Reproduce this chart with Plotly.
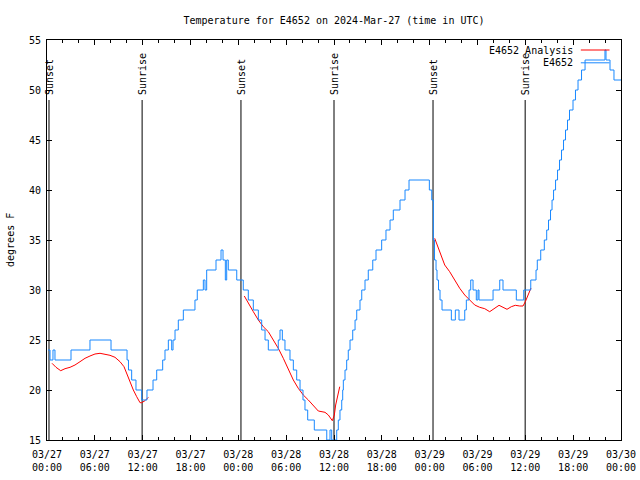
import pandas as pd
import plotly.graph_objects as go

# ---------------- data ----------------
start = pd.Timestamp("2024-03-27 00:00")
span_hours = 72

# observed E4652 temperature (change points, hours after 03/27 00:00 UTC)
obs_hours = [0.13, 0.38, 0.75, 1.00, 3.01, 5.39, 8.03, 10.04, 10.22, 10.62,
             11.16, 11.88, 12.54, 13.30, 13.76, 14.51, 14.80, 15.22, 15.64, 15.81,
             16.06, 16.47, 17.10, 18.56, 18.85, 19.61, 19.82, 20.03, 21.20, 21.83,
             22.08, 22.37, 22.54, 22.74, 23.80, 24.62, 25.25, 25.88, 26.51, 26.93,
             27.35, 27.76, 29.01, 29.23, 29.52, 29.85, 30.48, 30.90, 31.32, 31.74,
             32.11, 32.36, 32.70, 33.53, 35.09, 35.50, 35.71, 36.34, 36.54, 36.75,
             36.97, 37.09, 37.17, 37.38, 37.59, 37.79, 38.01, 38.35, 38.64, 38.85,
             39.26, 39.48, 39.89, 40.30, 40.86, 41.27, 41.98, 42.52, 43.03, 43.44,
             44.28, 44.91, 45.41, 47.96, 48.26, 48.46, 48.61, 48.80, 48.92, 49.11,
             49.30, 49.55, 50.72, 51.22, 51.68, 52.40, 52.60, 52.94, 53.15, 53.44,
             53.85, 54.06, 54.19, 55.95, 56.79, 57.20, 58.87, 59.80, 60.68, 61.34,
             61.50, 61.93, 62.38, 62.68, 62.91, 63.16, 63.35, 63.54, 63.79, 64.04,
             64.29, 64.54, 64.79, 65.04, 65.29, 65.54, 65.98, 66.29, 66.61, 67.05,
             67.49, 69.99, 70.12, 70.62, 71.12, 72.00]
obs_temp = [24, 23, 24, 23, 24, 25, 24, 23, 22, 21,
            20, 19, 20, 21, 22, 23, 24, 25, 24, 25,
            26, 27, 28, 29, 30, 31, 30, 32, 33, 34,
            33, 31, 33, 32, 31, 30, 29, 28, 27, 26,
            25, 24, 25, 26, 25, 24, 23, 22, 21, 20,
            19, 18, 17, 16, 15, 16, 15, 16, 17, 18,
            19, 20, 21, 22, 23, 24, 25, 26, 27, 28,
            29, 30, 31, 32, 33, 34, 35, 36, 37, 38,
            39, 40, 41, 40, 39, 35, 33, 32, 31, 30,
            29, 28, 27, 28, 27, 28, 29, 30, 31, 30,
            29, 30, 29, 30, 31, 30, 29, 30, 31, 32,
            33, 34, 35, 36, 37, 38, 39, 40, 41, 42,
            43, 44, 45, 46, 47, 48, 49, 50, 51, 52,
            53, 54, 53, 52, 51, 51]

# E4652 Analysis (three night segments)
ana_hours_1 = [0.63, 1.13, 1.72, 2.26, 2.89, 3.51, 4.14, 4.77, 5.39, 6.02, 6.65, 7.28,
               7.90, 8.53, 9.16, 9.66, 10.07, 10.41, 10.83, 11.25, 11.67, 11.88, 12.29, 12.71]
ana_temp_1 = [22.67, 22.27, 21.93, 22.13, 22.27, 22.5, 22.83, 23.17, 23.4, 23.6, 23.67, 23.6,
              23.47, 23.27, 22.83, 22.33, 21.5, 20.83, 20.0, 19.33, 18.73, 18.73, 18.93, 19.27]
ana_hours_2 = [24.75, 25.25, 25.88, 26.51, 27.13, 27.76, 28.39, 29.01, 29.64, 30.27, 30.90, 31.52,
               32.15, 32.78, 33.40, 34.03, 34.87, 35.29, 35.79, 36.04, 36.21, 36.47, 36.72]
ana_temp_2 = [29.4, 28.67, 27.83, 27.0, 26.33, 25.83, 25.0, 24.17, 23.17, 22.0, 21.0, 20.17,
              19.5, 19.0, 18.5, 17.9, 17.77, 17.5, 16.93, 17.5, 18.5, 19.5, 20.33]
ana_hours_3 = [48.63, 49.05, 49.46, 49.89, 50.51, 51.14, 51.77, 52.40, 53.02, 53.65, 54.28, 54.91,
               55.53, 56.16, 56.70, 57.20, 57.70, 58.24, 58.74, 59.30, 59.71, 60.00, 60.25, 60.55, 60.71]
ana_temp_3 = [35.17, 34.33, 33.33, 32.5, 31.83, 31.0, 30.17, 29.5, 29.0, 28.5, 28.27, 28.13,
              27.83, 28.17, 28.47, 28.27, 28.07, 28.33, 28.47, 28.4, 28.4, 28.83, 29.33, 29.83, 30.2]

# sunrise / sunset markers
sun_hours = [0.25, 11.93, 24.33, 36.0, 48.42, 59.98]
sun_labels = ["Sunset", "Sunrise", "Sunset", "Sunrise", "Sunset", "Sunrise"]
sun_line_top = 49

y_range = [15, 55]
tick_hours = list(range(0, 73, 6))

title_text = "Temperature for E4652 on 2024-Mar-27 (time in UTC)"
y_title = "degrees F"
series_names = ["E4652 Analysis", "E4652"]
series_colors = ["#ff0000", "#1888ff"]

# ---------------- helpers ----------------
def to_time(hours):
    return [start + pd.Timedelta(hours=h) if h is not None else None for h in hours]

ana_hours = ana_hours_1 + [None] + ana_hours_2 + [None] + ana_hours_3
ana_temp = ana_temp_1 + [None] + ana_temp_2 + [None] + ana_temp_3

FONT = "DejaVu Sans Mono"
fs = 10

fig = go.Figure()
fig.add_trace(go.Scatter(x=to_time(ana_hours), y=ana_temp, mode="lines",
                         line=dict(color=series_colors[0], width=1),
                         name=series_names[0], showlegend=False))
fig.add_trace(go.Scatter(x=to_time(obs_hours), y=obs_temp, mode="lines",
                         line=dict(color=series_colors[1], width=1, shape="hv"),
                         name=series_names[1], showlegend=False))

for t, lab in zip(to_time(sun_hours), sun_labels):
    fig.add_shape(type="line", xref="x", yref="y", x0=t, x1=t, y0=y_range[0], y1=sun_line_top,
                  line=dict(color="black", width=1), layer="below")
    fig.add_annotation(x=t, y=sun_line_top + 0.4, xref="x", yref="y", text=lab,
                       textangle=-90, showarrow=False, xanchor="center", yanchor="bottom",
                       font=dict(family=FONT, size=fs, color="black"), borderpad=0)

# legend (gnuplot style: text then sample line)
leg_y = [0.975, 0.943]
for name, col, yy in zip(series_names, series_colors, leg_y):
    fig.add_annotation(x=0.918, y=yy, xref="paper", yref="paper", text=name, showarrow=False,
                       xanchor="right", yanchor="middle",
                       font=dict(family=FONT, size=fs, color="black"), borderpad=0)
    fig.add_shape(type="line", xref="paper", yref="paper", x0=0.930, x1=0.980, y0=yy, y1=yy,
                  line=dict(color=col, width=1))

# y-axis title
fig.add_annotation(x=-0.0645, y=0.5, xref="paper", yref="paper", text=y_title, textangle=-90,
                   showarrow=False, xanchor="center", yanchor="middle",
                   font=dict(family=FONT, size=fs, color="black"))

tick_times = to_time(tick_hours)
tick_text = [f"{t:%m/%d}<br>{t:%H:%M}" for t in tick_times]

fig.update_layout(
    width=640, height=480,
    margin=dict(l=47, r=19, t=40, b=40),
    paper_bgcolor="white", plot_bgcolor="white",
    font=dict(family=FONT, size=fs, color="black"),
    title=dict(text=title_text, x=0.5, xref="paper", xanchor="center",
               y=1 - 20 / 480, yref="container", yanchor="middle",
               font=dict(family=FONT, size=fs, color="black")),
    showlegend=False,
)
fig.update_xaxes(type="date", range=[tick_times[0], tick_times[-1]],
                 tickvals=tick_times, ticktext=tick_text,
                 ticks="inside", ticklen=5, tickcolor="black", tickwidth=1,
                 ticklabelstandoff=5, automargin=False,
                 showline=True, linecolor="black", linewidth=1, mirror="allticks",
                 showgrid=False, zeroline=False,
                 tickfont=dict(family=FONT, size=fs, color="black"),
                 minor=dict(dtick=2 * 3600 * 1000, tick0=tick_times[0], ticks="inside",
                            ticklen=3, tickcolor="black", showgrid=False))
fig.update_yaxes(range=y_range, dtick=5, tick0=15,
                 ticks="inside", ticklen=5, tickcolor="black", tickwidth=1,
                 ticklabelstandoff=3, automargin=False,
                 showline=True, linecolor="black", linewidth=1, mirror="allticks",
                 showgrid=False, zeroline=False,
                 tickfont=dict(family=FONT, size=fs, color="black"))

fig.write_html("out.html", config={"displayModeBar": False},
               post_script="document.body.style.margin='0';")
